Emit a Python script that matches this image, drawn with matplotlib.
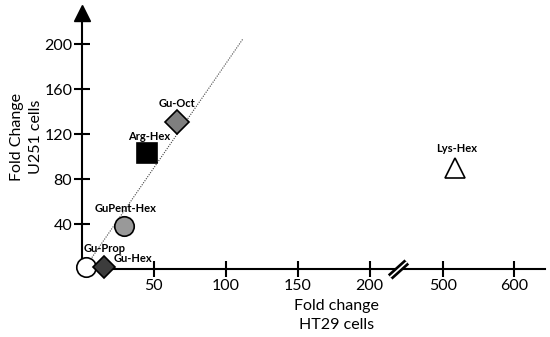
import numpy as np
import matplotlib
matplotlib.use("Agg")
import matplotlib.pyplot as plt

plt.rcParams['font.family'] = ['Lato', 'DejaVu Sans']

# ---- data ----
labels = ["Gu-Prop", "Gu-Hex", "GuPent-Hex", "Arg-Hex", "Gu-Oct", "Lys-Hex"]
ht29 = [3, 15, 29, 45, 66, 516]
u251 = [2, 2, 38, 103, 131, 90]
markers = ["o", "D", "o", "s", "D", "^"]
faces = ["white", "#3c3c3c", "#999999", "black", "#7f7f7f", "white"]
sizes = [14, 11, 14, 15, 12, 14]
label_offsets = [(13, 13), (21, 6), (1.5, 13), (1.5, 12), (0, 13), (1.5, 14)]

trend_x = [3, 112]
trend_y = [3, 205]

x_ticks = [50, 100, 150, 200, 500, 600]
y_ticks = [40, 80, 120, 160, 200]

# broken x scale: 0..220 linear, 437.. compressed
brk_lo, brk_hi, right_scale = 220, 437, 0.49
xp = np.array([-1000.0, brk_lo, brk_hi, 2000.0])
fp = np.array([-1000.0, brk_lo, brk_lo + 0.5, brk_lo + 0.5 + (2000 - brk_hi) * right_scale])

def fwd(x):
    return np.interp(x, xp, fp)

def inv(p):
    return np.interp(p, fp, xp)

fig = plt.figure(figsize=(5.5, 3.37), dpi=100)
ax = fig.add_axes([82 / 550, 68 / 337, 463 / 550, 264 / 337])
ax.set_xscale('function', functions=(fwd, inv))
ax.set_xlim(0, inv(322))
ax.set_ylim(0, 235)

for s in ['top', 'right', 'left']:
    ax.spines[s].set_visible(False)
ax.spines['bottom'].set_linewidth(1.5)

ax.set_xticks(x_ticks)
ax.set_xticklabels([str(v) for v in x_ticks])
ax.set_yticks(y_ticks)
ax.set_yticklabels([str(v) for v in y_ticks])
ax.tick_params(axis='both', direction='inout', length=12, width=1.5,
               labelsize=11.5, pad=1)
ax.minorticks_off()

# y axis line with arrow head
ax.plot([0, 0], [0, 1 - 10 / 264], color='black', lw=1.5, transform=ax.transAxes,
        clip_on=False, zorder=4)
ax.plot([0], [1 - 7.5 / 264], marker='^', markersize=11, color='black',
        transform=ax.transAxes, clip_on=False, zorder=5)

# trend line
ax.plot(trend_x, trend_y, color='#444444', lw=0.8, ls=(0, (1.0, 1.2)), zorder=2)

for lab, x, y, m, fc, ms, off in zip(labels, ht29, u251, markers, faces, sizes, label_offsets):
    ax.plot([x], [y], marker=m, markersize=ms, markerfacecolor=fc,
            markeredgecolor='black', markeredgewidth=1.2, clip_on=False,
            zorder=6, ls='none')
    ax.annotate(lab, (x, y), xytext=off, textcoords='offset points',
                ha='center', va='center', fontsize=8, fontweight='bold',
                zorder=7)

# axis break marker
ax.plot([brk_lo], [0], marker=[(-1, -0.9), (1, 0.9)], markersize=12,
        markeredgecolor='black', markeredgewidth=5, ls='none',
        clip_on=False, zorder=8)
ax.plot([brk_lo], [0], marker=[(-1, -0.9), (1, 0.9)], markersize=12,
        markeredgecolor='white', markeredgewidth=1.2, ls='none',
        clip_on=False, zorder=9)

ax.set_xlabel("Fold change\nHT29 cells", fontsize=11.5, linespacing=1.5)
ax.xaxis.set_label_coords(0.55, -0.112, transform=ax.transAxes)
ax.xaxis.label.set_va('top')
ax.set_ylabel("Fold Change\nU251 cells", fontsize=11.5, linespacing=1.5)
ax.yaxis.set_label_coords(-0.084, 0.5)

fig.savefig("out.png", dpi=100)
